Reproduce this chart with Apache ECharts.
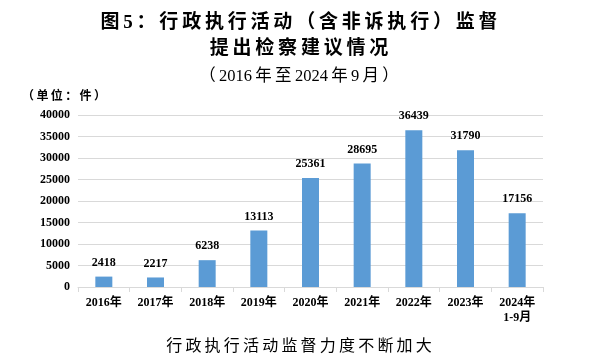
<!DOCTYPE html>
<html><head><meta charset="utf-8">
<script src="https://cdn.jsdelivr.net/npm/echarts@6/dist/echarts.min.js"></script>
<style>html,body{margin:0;padding:0;background:#fff}#c{width:598px;height:360px}</style>
</head><body><div id="c"></div>
<script>
var categories = ['2016年','2017年','2018年','2019年','2020年','2021年','2022年','2023年','2024年\n1-9月'];
var values = [2418, 2217, 6238, 13113, 25361, 28695, 36439, 31790, 17156];
var yTicks = [0, 5000, 10000, 15000, 20000, 25000, 30000, 35000, 40000];
var titleLine1 = '图5：行政执行活动（含非诉执行）监督';
var titleLine2 = '提出检察建议情况';
var titleLine3 = '（\u20092016\u2009年\u2009至\u20092024\u2009年\u20099\u2009月\u2009）';
var unitText = '（单位：件）';
var footText = '行政执行活动监督力度不断加大';
var FF = '"Liberation Serif", "Noto Sans CJK SC", serif';
function sp(s, gap) { return Array.from(s).join(gap); }
var chart = echarts.init(document.getElementById('c'));
chart.setOption({
  animation: false,
  title: [
    {text: sp(titleLine1, '\u2009'), left: 'center', top: 9, textStyle:{fontFamily:FF, fontSize:19, fontWeight:'bold', color:'#000'}},
    {text: sp(titleLine2, '\u2009'), left: 'center', top: 35, textStyle:{fontFamily:FF, fontSize:19, fontWeight:'bold', color:'#000'}},
    {text: titleLine3, left: 'center', top: 63, textStyle:{fontFamily:FF, fontSize:16.5, fontWeight:'normal', color:'#000'}},
    {text: sp(unitText, '\u2009'), left: 17, top: 86, textStyle:{fontFamily:FF, fontSize:12, fontWeight:'bold', color:'#000'}},
    {text: sp(footText, '\u2009'), left: 'center', top: 334, textStyle:{fontFamily:FF, fontSize:16, fontWeight:'normal', color:'#000'}}
  ],
  grid: {left: 78, right: 55, top: 115, bottom: 73, containLabel: false},
  xAxis: {
    type: 'category', data: categories,
    axisLine: {lineStyle:{color:'#d9d9d9'}},
    axisTick: {show: true, alignWithLabel: false, lineStyle:{color:'#d9d9d9'}},
    axisLabel: {fontFamily: FF, fontSize: 12, fontWeight: 'bold', color: '#000', interval: 0, lineHeight: 15, margin: 8}
  },
  yAxis: {
    type: 'value', min: yTicks[0], max: yTicks[yTicks.length-1], interval: 5000,
    axisLine: {show:false}, axisTick: {show:false},
    splitLine: {lineStyle:{color:'#d9d9d9'}},
    axisLabel: {fontFamily: FF, fontSize: 12, fontWeight: 'bold', color: '#000', margin: 8, formatter: function(v){ return String(v); }}
  },
  series: [{
    type: 'bar', data: values, barWidth: 17,
    itemStyle: {color: '#5B9BD5'},
    label: {show: true, position: 'top', distance: 8, fontFamily: FF, fontSize: 12, fontWeight: 'bold', color: '#000'}
  }]
});
</script></body></html>
